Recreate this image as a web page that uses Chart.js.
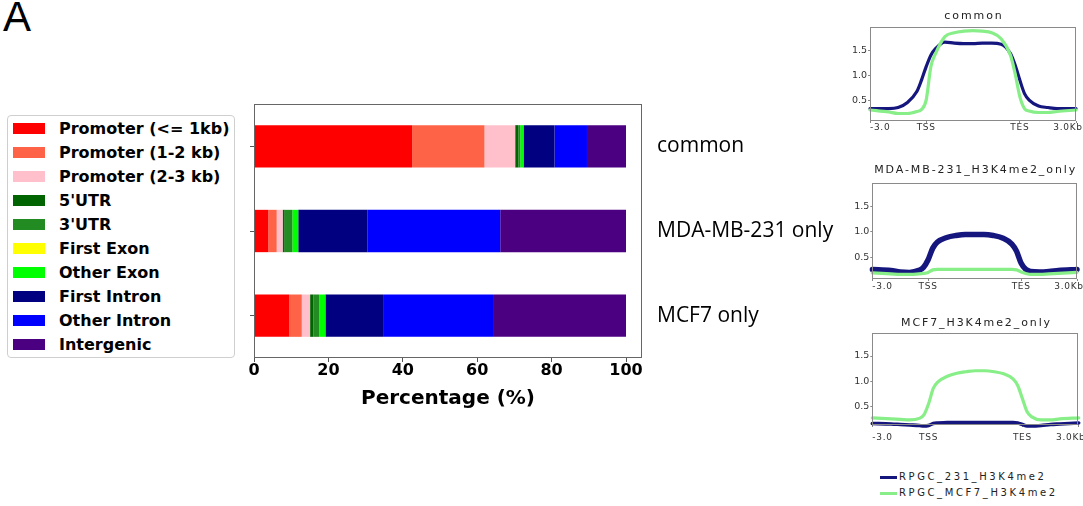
<!DOCTYPE html>
<html>
<head>
<meta charset="utf-8">
<script src="https://cdn.jsdelivr.net/npm/chart.js@4.4.1/dist/chart.umd.min.js"></script>
<style>
  html, body { margin: 0; padding: 0; background: #fff; }
  body { width: 1083px; height: 506px; position: relative; overflow: hidden; font-family: "DejaVu Sans", sans-serif; }
  .abs { position: absolute; }
  #panel { left: 3px; top: -7px; font-family: "Liberation Sans", Arial, sans-serif; font-size: 42px; line-height: 48px; color: #000; }
  #barLegend { left: 7px; top: 115px; width: 228px; height: 243px; border: 1px solid #cfcfcf; border-radius: 4px; box-sizing: border-box; }
  .lgRow { position: absolute; left: 0; height: 24px; width: 220px; }
  .lgRow .sw { position: absolute; left: 5px; top: 6px; width: 32px; height: 11px; }
  .lgRow .lt { position: absolute; left: 51px; top: 0; font: bold 16px/24px "DejaVu Sans", sans-serif; color: #000; white-space: nowrap; }
  #profileLegend { left: 880px; top: 469px; width: 200px; height: 34px; }
  .plRow { position: absolute; left: 0; height: 16px; width: 200px; }
  .plRow .ln { position: absolute; left: 0; top: 6.5px; width: 17px; height: 3px; }
  .plRow .pt { position: absolute; left: 19px; top: 0; font: 10px/16px "DejaVu Sans", sans-serif; letter-spacing: 2.6px; color: #222; white-space: nowrap; }
  canvas { position: absolute; }
</style>
</head>
<body>
<div id="panel" class="abs">A</div>
<div id="barLegend" class="abs"></div>
<canvas id="annoBar" width="600" height="325" style="left:240px; top:95px;"></canvas>
<canvas id="profCommon" width="243" height="140" style="left:840px; top:0px;"></canvas>
<canvas id="profMda" width="243" height="150" style="left:840px; top:150px;"></canvas>
<canvas id="profMcf7" width="243" height="145" style="left:840px; top:300px;"></canvas>
<div id="profileLegend" class="abs"></div>

<script>
// ---- Peak annotation: share of peaks (%) falling into each genomic feature ----
const peakSets = ['common', 'MDA-MB-231 only', 'MCF7 only'];
const regionNames = ['Promoter (<= 1kb)', 'Promoter (1-2 kb)', 'Promoter (2-3 kb)', "5'UTR", "3'UTR",
                     'First Exon', 'Other Exon', 'First Intron', 'Other Intron', 'Intergenic'];
const regionColors = ['#ff0000', '#ff6347', '#ffc0cb', '#006400', '#228b22',
                      '#ffff00', '#00ff00', '#000080', '#0000ff', '#4b0082'];
const commonShare   = [42.5, 19.45, 8.26, 0.89, 0.46, 0, 0.89, 8.34, 8.72, 10.49];
const mdaOnlyShare  = [3.85, 2.25, 1.6, 0.55, 2.05, 0, 1.6, 18.55, 35.75, 33.8];
const mcf7OnlyShare = [9.5, 3.34, 2.24, 0.9, 1.52, 0, 1.7, 15.5, 29.8, 35.5];
const percentTicks = [0, 20, 40, 60, 80, 100];

// ---- H3K4me2 signal profiles (RPGC) over scaled gene bodies, kb from TSS ----
const profileBins = [-3, -2, -1.5, -1, -0.5, -0.25, 0, 0.25, 0.5, 1, 1.5, 2, 2.5, 3, 3.5, 4, 4.5, 4.75, 5, 5.25, 5.5, 6, 6.5, 7, 8];
const profileTicks = [-3, 0, 5, 8];
const profileTickLabels = ['-3.0', 'TSS', 'TES', '3.0Kb'];
const signalTicks = [0.5, 1.0, 1.5];
const sampleNames = ['RPGC_231_H3K4me2', 'RPGC_MCF7_H3K4me2'];
const sampleColors = ['#16167f', '#88ee88'];

const common231  = [0.33, 0.33, 0.35, 0.45, 0.67, 0.9, 1.17, 1.4, 1.53, 1.66, 1.64, 1.63, 1.63, 1.64, 1.64, 1.62, 1.43, 1.2, 0.9, 0.63, 0.5, 0.38, 0.35, 0.33, 0.33];
const commonMCF7 = [0.3, 0.26, 0.23, 0.23, 0.27, 0.31, 0.5, 1.17, 1.43, 1.77, 1.85, 1.88, 1.89, 1.88, 1.85, 1.73, 1.4, 1.03, 0.57, 0.33, 0.28, 0.25, 0.25, 0.27, 0.3];
const mda231     = [0.26, 0.24, 0.21, 0.2, 0.24, 0.3, 0.45, 0.68, 0.8, 0.89, 0.93, 0.95, 0.95, 0.95, 0.93, 0.88, 0.76, 0.62, 0.38, 0.26, 0.22, 0.21, 0.22, 0.24, 0.26];
const mdaMCF7    = [0.19, 0.17, 0.16, 0.16, 0.17, 0.18, 0.2, 0.25, 0.26, 0.26, 0.26, 0.26, 0.26, 0.26, 0.26, 0.26, 0.26, 0.25, 0.21, 0.18, 0.16, 0.16, 0.17, 0.18, 0.2];
const mcf7231    = [0.17, 0.16, 0.15, 0.14, 0.13, 0.12, 0.13, 0.17, 0.18, 0.19, 0.19, 0.19, 0.19, 0.19, 0.19, 0.19, 0.19, 0.18, 0.15, 0.12, 0.12, 0.13, 0.15, 0.16, 0.18];
const mcf7MCF7   = [0.28, 0.26, 0.25, 0.24, 0.27, 0.34, 0.56, 0.86, 0.99, 1.1, 1.16, 1.19, 1.21, 1.21, 1.19, 1.15, 1.05, 0.92, 0.66, 0.4, 0.3, 0.24, 0.24, 0.26, 0.28];

// Box around the plotting area
const frame = {
  id: 'frame',
  afterDraw(chart, args, opts) {
    const { ctx, chartArea: a } = chart;
    ctx.save();
    ctx.strokeStyle = opts.color || '#666';
    ctx.lineWidth = 1;
    ctx.strokeRect(Math.round(a.left) + 0.5, Math.round(a.top) + 0.5,
                   Math.round(a.right - a.left) - 1, Math.round(a.bottom - a.top) - 1);
    ctx.restore();
  }
};

// ---------------- Stacked annotation bars ----------------
const sharesBySet = [commonShare, mdaOnlyShare, mcf7OnlyShare];
new Chart(document.getElementById('annoBar'), {
  type: 'bar',
  data: {
    labels: peakSets,
    datasets: regionNames.map((name, i) => ({
      label: name,
      data: sharesBySet.map(s => s[i]),
      backgroundColor: regionColors[i],
      borderWidth: 0,
      barPercentage: 0.5,
      categoryPercentage: 1.0
    }))
  },
  options: {
    indexAxis: 'y',
    responsive: false,
    animation: false,
    events: [],
    layout: { padding: { top: 9, left: 0, right: 0, bottom: 0 } },
    plugins: { legend: { display: false }, tooltip: { enabled: false }, frame: { color: '#666' } },
    scales: {
      x: {
        stacked: true, min: 0, max: 104.3,
        afterBuildTicks: s => { s.ticks = percentTicks.map(v => ({ value: v })); },
        grid: { drawOnChartArea: false, drawTicks: true, tickLength: 4, color: '#555' },
        border: { display: false },
        ticks: { font: { family: 'DejaVu Sans', weight: 'bold', size: 16 }, color: '#000', padding: -1, maxRotation: 0 },
        title: { display: true, text: 'Percentage (%)', color: '#000',
                 font: { family: 'DejaVu Sans', weight: 'bold', size: 20 }, padding: { top: 0, bottom: 9 } },
        afterFit: s => { s.height = 62; s.paddingLeft = 0; s.paddingRight = 0; }
      },
      y: {
        stacked: true, position: 'left',
        grid: { drawOnChartArea: false, tickLength: 4, color: '#555', offset: false },
        border: { display: false },
        ticks: { display: false },
        afterFit: s => { s.width = 14; s.paddingTop = 0; s.paddingBottom = 0; }
      },
      y2: {
        type: 'category', position: 'right', labels: peakSets, offset: true,
        grid: { display: false, drawTicks: false },
        border: { display: false },
        ticks: { font: { family: 'Open Sans', size: 21 }, color: '#000', padding: 15 },
        afterFit: s => { s.width = 198; s.paddingTop = 0; s.paddingBottom = 0; }
      }
    }
  },
  plugins: [frame]
});

// Bar legend
const barLegend = document.getElementById('barLegend');
regionNames.forEach((name, i) => {
  const row = document.createElement('div');
  row.className = 'lgRow';
  row.style.top = (0.6 + i * 24) + 'px';
  const sw = document.createElement('span');
  sw.className = 'sw';
  sw.style.background = regionColors[i];
  const lt = document.createElement('span');
  lt.className = 'lt';
  lt.textContent = name;
  row.appendChild(sw); row.appendChild(lt);
  barLegend.appendChild(row);
});

// ---------------- Signal profiles ----------------
// Title and x labels use spaced lettering; outer x labels are pushed inward like the plotting tool does
const profileText = {
  id: 'profileText',
  afterDraw(chart, args, opts) {
    const { ctx, chartArea: a, scales: { x } } = chart;
    ctx.save();
    ctx.fillStyle = '#222';
    ctx.textBaseline = 'middle';
    ctx.font = '11px "DejaVu Sans"';
    ctx.letterSpacing = '1.9px';
    ctx.textAlign = 'center';
    ctx.fillText(opts.title, (a.left + a.right) / 2 + 1, a.top - opts.titleGap);
    ctx.font = '9px "DejaVu Sans"';
    ctx.letterSpacing = '0.7px';
    ctx.fillStyle = '#333';
    profileTicks.forEach((v, i) => {
      let px = x.getPixelForValue(v);
      if (i === 0) { ctx.textAlign = 'left'; }
      else if (i === profileTicks.length - 1) { ctx.textAlign = 'center'; px -= 8; }
      else { ctx.textAlign = 'center'; }
      ctx.fillText(profileTickLabels[i], px, a.bottom + opts.labelGap);
    });
    ctx.restore();
  }
};

function drawProfile(id, title, vals231, valsMCF7, yMin, yMax, box) {
  const series = [vals231, valsMCF7];
  return new Chart(document.getElementById(id), {
    type: 'line',
    data: {
      datasets: series.map((vals, k) => ({
        label: sampleNames[k],
        data: profileBins.map((x, i) => ({ x: x, y: vals[i] })),
        borderColor: sampleColors[k],
        borderWidth: k === 0 ? box.w231 : 3.2,
        order: k === 0 ? 1 : 0,
        clip: box.clip,
        fill: false
      }))
    },
    options: {
      responsive: false,
      animation: false,
      events: [],
      layout: { padding: { top: box.top, right: box.right, left: 0, bottom: 0 } },
      elements: {
        point: { radius: 0 },
        line: { cubicInterpolationMode: 'monotone', borderCapStyle: 'round', borderJoinStyle: 'round' }
      },
      plugins: {
        legend: { display: false }, tooltip: { enabled: false },
        frame: { color: '#8a8a8a' },
        profileText: { title: title, titleGap: box.titleGap, labelGap: box.labelGap }
      },
      scales: {
        x: {
          type: 'linear', min: -3, max: 8,
          afterBuildTicks: s => { s.ticks = profileTicks.map(v => ({ value: v })); },
          ticks: { display: false },
          grid: { drawOnChartArea: false, tickLength: 2, color: '#888' },
          border: { display: false },
          afterFit: s => { s.height = box.xh; }
        },
        y: {
          min: yMin, max: yMax,
          afterBuildTicks: s => { s.ticks = signalTicks.map(v => ({ value: v })); },
          ticks: { callback: v => Number(v).toFixed(1), font: { family: 'DejaVu Sans', size: 9.5 }, color: '#333', padding: 1 },
          grid: { drawOnChartArea: false, tickLength: 2, color: '#888' },
          border: { display: false },
          afterFit: s => { s.width = box.yw; s.paddingTop = 0; s.paddingBottom = 0; }
        }
      }
    },
    plugins: [frame, profileText]
  });
}

drawProfile('profCommon', 'common', common231, commonMCF7, 0.08, 1.97,
  { top: 26.7, right: 7, yw: 30, xh: 19, titleGap: 10.7, labelGap: 6.3, w231: 3.2, clip: 2 });
drawProfile('profMda', 'MDA-MB-231_H3K4me2_only', mda231, mdaMCF7, 0.07, 1.96,
  { top: 33.3, right: 6, yw: 32.3, xh: 21, titleGap: 13.3, labelGap: 7.7, w231: 5.5, clip: 3 });
drawProfile('profMcf7', 'MCF7_H3K4me2_only', mcf7231, mcf7MCF7, 0.14, 1.96,
  { top: 32.7, right: 4.3, yw: 32.3, xh: 20, titleGap: 10, labelGap: 13, w231: 3.6, clip: false });

// Profile legend
const profileLegend = document.getElementById('profileLegend');
sampleNames.forEach((name, k) => {
  const row = document.createElement('div');
  row.className = 'plRow';
  row.style.top = (k * 16) + 'px';
  const ln = document.createElement('span');
  ln.className = 'ln';
  ln.style.background = sampleColors[k];
  const pt = document.createElement('span');
  pt.className = 'pt';
  pt.textContent = name;
  row.appendChild(ln); row.appendChild(pt);
  profileLegend.appendChild(row);
});
</script>
</body>
</html>
